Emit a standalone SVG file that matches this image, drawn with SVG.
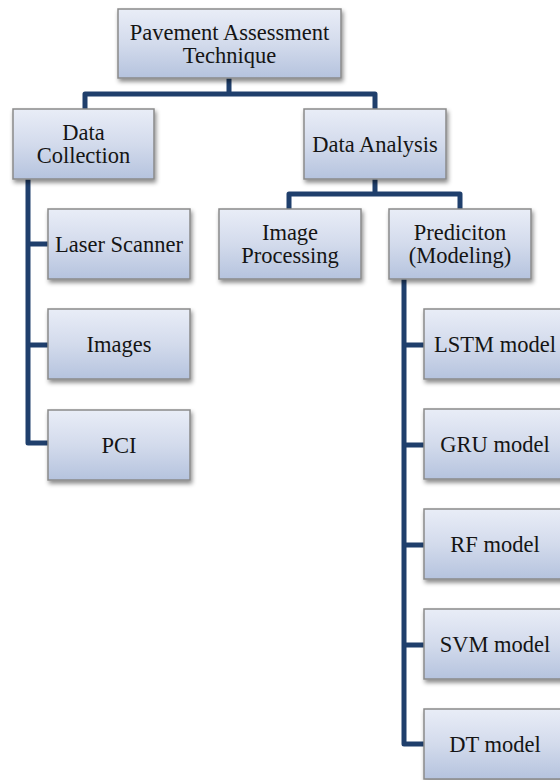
<svg xmlns="http://www.w3.org/2000/svg" width="560" height="780" viewBox="0 0 560 780">
  <defs>
    <linearGradient id="boxFill" x1="0" y1="0" x2="0" y2="1">
      <stop offset="0" stop-color="#e9edf7"/>
      <stop offset="0.5" stop-color="#d3dbec"/>
      <stop offset="1" stop-color="#b5c3de"/>
    </linearGradient>
    <filter id="shadow" x="-10%" y="-10%" width="125%" height="135%">
      <feDropShadow dx="1.5" dy="3" stdDeviation="2" flood-color="#000" flood-opacity="0.45"/>
    </filter>
    <style>
      .box { fill: url(#boxFill); stroke: #8a8a8a; stroke-width: 1.5; filter: url(#shadow); }
      .lbl { font-family: "Liberation Serif", "Times New Roman", serif; font-size: 22.5px; fill: #151515; text-anchor: middle; }
      .link { fill: none; stroke: #1f3f6c; stroke-width: 5; stroke-linejoin: round; }
    </style>
  </defs>

  <rect width="560" height="780" fill="#ffffff"/>

  <!-- connectors, drawn beneath the boxes -->
  <g id="connectors">
    <path class="link" d="M229 78 V94 M85 110 V94 H375 V110"/>
    <path class="link" d="M28 178 V443 H49 M28 244 H49 M28 345 H49"/>
    <path class="link" d="M375 178 V194 M289 210 V194 H460 V210"/>
    <path class="link" d="M404 278 V744 H425 M404 345 H425 M404 445 H425 M404 545 H425 M404 645 H425"/>
  </g>

  <g id="root">
    <rect class="box" x="118" y="9" width="223" height="69"/>
    <text class="lbl" x="229.5" y="40">Pavement Assessment</text>
    <text class="lbl" x="229.5" y="63">Technique</text>
  </g>

  <g id="data-collection">
    <rect class="box" x="13" y="109" width="141" height="70"/>
    <text class="lbl" x="83.5" y="140">Data</text>
    <text class="lbl" x="83.5" y="163">Collection</text>
  </g>

  <g id="data-analysis">
    <rect class="box" x="304" y="109" width="142" height="70"/>
    <text class="lbl" x="375" y="152">Data Analysis</text>
  </g>

  <g id="laser-scanner">
    <rect class="box" x="48" y="209" width="142" height="70"/>
    <text class="lbl" x="119" y="252">Laser Scanner</text>
  </g>

  <g id="images">
    <rect class="box" x="48" y="309" width="142" height="70"/>
    <text class="lbl" x="119" y="352">Images</text>
  </g>

  <g id="pci">
    <rect class="box" x="48" y="410" width="142" height="70"/>
    <text class="lbl" x="119" y="453">PCI</text>
  </g>

  <g id="image-processing">
    <rect class="box" x="219" y="209" width="142" height="70"/>
    <text class="lbl" x="290" y="240">Image</text>
    <text class="lbl" x="290" y="263">Processing</text>
  </g>

  <g id="prediction">
    <rect class="box" x="389" y="209" width="142" height="70"/>
    <text class="lbl" x="460" y="240">Prediciton</text>
    <text class="lbl" x="460" y="263">(Modeling)</text>
  </g>

  <g id="lstm">
    <rect class="box" x="424" y="309" width="142" height="70"/>
    <text class="lbl" x="495" y="352">LSTM model</text>
  </g>

  <g id="gru">
    <rect class="box" x="424" y="409" width="142" height="70"/>
    <text class="lbl" x="495" y="452">GRU model</text>
  </g>

  <g id="rf">
    <rect class="box" x="424" y="509" width="142" height="70"/>
    <text class="lbl" x="495" y="552">RF model</text>
  </g>

  <g id="svm">
    <rect class="box" x="424" y="609" width="142" height="70"/>
    <text class="lbl" x="495" y="652">SVM model</text>
  </g>

  <g id="dt">
    <rect class="box" x="424" y="709" width="142" height="70"/>
    <text class="lbl" x="495" y="752">DT model</text>
  </g>
</svg>
